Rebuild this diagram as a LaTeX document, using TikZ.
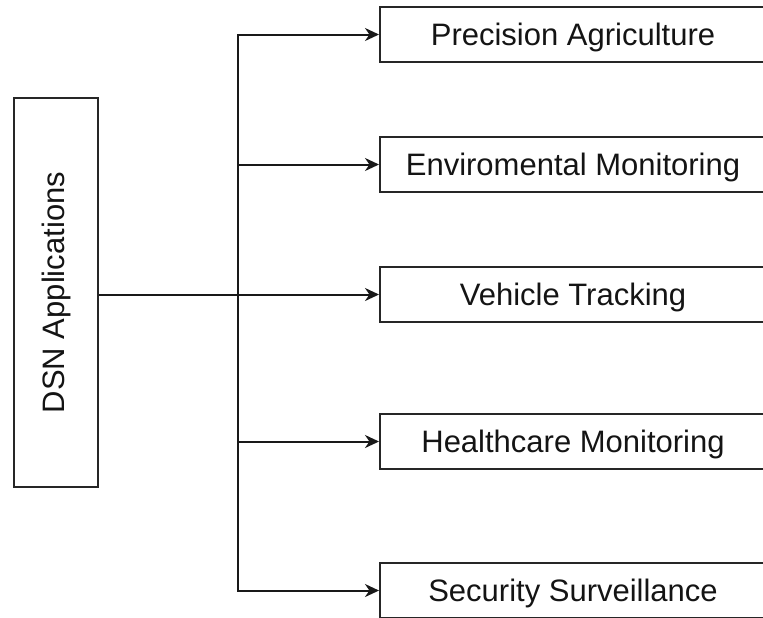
\documentclass[tikz,border=0pt]{standalone}
\usepackage{fontspec}
\setmainfont{Liberation Sans}
\usetikzlibrary{arrows.meta}
\tikzset{
  lbl/.style={font=\fontsize{15.5}{18}\selectfont, text=black!92, text height=11.1pt, text depth=0pt},
  box/.style={lbl, draw=black!85, line width=1pt, minimum width=193pt, minimum height=27.5pt,
    inner sep=0pt},
  mainbox/.style={draw=black!85, line width=1pt, minimum width=42pt, minimum height=194.5pt,
    inner sep=0pt, font=\fontsize{15.5}{18}\selectfont, text=black!92},
  arr/.style={draw=black!90, line width=1pt, -{Stealth[length=7pt,width=6.5pt,inset=2.2pt]}},
}
\begin{document}
\begin{tikzpicture}[x=0.5pt,y=-0.5pt]
\useasboundingbox (0,0) rectangle (763,617);
\clip (0,0) rectangle (763,617);
\node[mainbox] (dsn) at (56,292.5) {\rotatebox{90}{\raisebox{-0.5ex}{DSN Applications}}};
\node[box] (pa) at (573,34.5) {Precision Agriculture};
\node[box] (em) at (573,164.5) {Enviromental Monitoring};
\node[box] (vt) at (573,294.5) {Vehicle Tracking};
\node[box] (hm) at (573,441.5) {Healthcare Monitoring};
\node[box] (ss) at (573,590.5) {Security Surveillance};
\coordinate (j) at (238,294.5);
\draw[arr] (dsn.east |- vt.west) -- (vt.west);
\foreach \n in {pa,em,hm,ss} \draw[arr] (j) |- (\n.west);
\end{tikzpicture}
\end{document}
